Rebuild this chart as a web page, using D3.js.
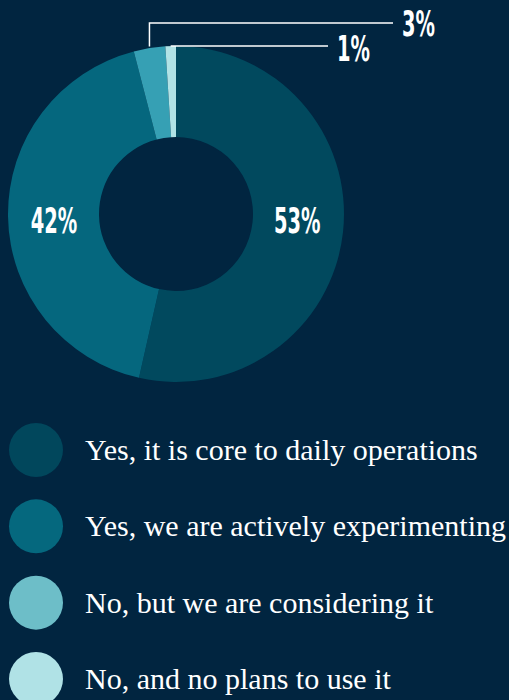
<!DOCTYPE html>
<html>
<head>
<meta charset="utf-8">
<script src="https://cdn.jsdelivr.net/npm/d3@7"></script>
<style>
  html, body { margin: 0; padding: 0; background: #012540; }
  svg { display: block; }
  .pct { font-family: "Liberation Sans Narrow", "DejaVu Sans Condensed", sans-serif; font-weight: 700; fill: #ffffff; }
  .legend-text { font-family: "Liberation Serif", "DejaVu Serif", serif; fill: #ffffff; }
</style>
</head>
<body>
<svg id="chart" width="509" height="700"></svg>
<script>
// Survey answers, in drawing order (clockwise from 12 o'clock)
const categories = [
  "Yes, it is core to daily operations",
  "Yes, we are actively experimenting",
  "No, but we are considering it",
  "No, and no plans to use it"
];
const values = [53, 42, 3, 1];
const valueLabels = ["53%", "42%", "3%", "1%"];
const sliceColors = ["#01495e", "#05677e", "#36a0b4", "#b1e3e6"];
const legendColors = ["#01475c", "#05687e", "#6dbec8", "#b0e2e6"];

const svg = d3.select("#chart");
const cx = 176, cy = 214;
const innerR = 77, outerR = 168;

const pie = d3.pie().sort(null).value(d => d)
  .startAngle(0).endAngle(2 * Math.PI);
const arcs = pie(values);

const arc = d3.arc().innerRadius(innerR).outerRadius(outerR);
const labelArc = d3.arc().innerRadius(122).outerRadius(122);

const donut = svg.append("g").attr("transform", `translate(${cx},${cy})`);

donut.selectAll("path.slice")
  .data(arcs)
  .join("path")
  .attr("class", "slice")
  .attr("d", arc)
  .attr("fill", (d, i) => sliceColors[i]);

// Large slices: value printed inside the ring, on a common baseline
const labelSize = 36, squeeze = 0.6;
arcs.slice(0, 2).forEach((d, i) => {
  const [x] = labelArc.centroid(d);
  donut.append("text")
    .attr("class", "pct")
    .attr("font-size", labelSize)
    .attr("text-anchor", "middle")
    .attr("transform", `translate(${x},19) scale(${squeeze},1)`)
    .text(valueLabels[i]);
});

// Small slices: leader lines from the outer edge to labels on the top right
const edge = d => {
  const a = (d.startAngle + d.endAngle) / 2;
  return [outerR * Math.sin(a), -outerR * Math.cos(a)];
};

const line = d3.line();

// 3% slice
const e3 = edge(arcs[2]);
const top3 = -191;
donut.append("path")
  .attr("d", line([[e3[0], -outerR + 0.5], [e3[0], top3], [217, top3]]))
  .attr("fill", "none").attr("stroke", "#ffffff").attr("stroke-width", 1.5);
donut.append("text")
  .attr("class", "pct")
  .attr("font-size", labelSize)
  .attr("transform", `translate(226,${top3 + 13}) scale(${squeeze},1)`)
  .text(valueLabels[2]);

// 1% slice
const e1 = edge(arcs[3]);
donut.append("path")
  .attr("d", line([[e1[0], -outerR], [152, -outerR]]))
  .attr("fill", "none").attr("stroke", "#ffffff").attr("stroke-width", 1.5);
donut.append("text")
  .attr("class", "pct")
  .attr("font-size", labelSize)
  .attr("transform", `translate(161,${-outerR + 15}) scale(${squeeze},1)`)
  .text(valueLabels[3]);

// Legend
const ly = d3.scalePoint().domain(categories).range([450, 679]);
const legend = svg.append("g");
const rows = legend.selectAll("g.row")
  .data(categories)
  .join("g")
  .attr("class", "row")
  .attr("transform", d => `translate(0,${ly(d)})`);

rows.append("circle")
  .attr("cx", 36).attr("cy", 0).attr("r", 27)
  .attr("fill", (d, i) => legendColors[i]);

rows.append("text")
  .attr("class", "legend-text")
  .attr("x", 85).attr("y", 10)
  .attr("font-size", 30)
  .text(d => d);
</script>
</body>
</html>
